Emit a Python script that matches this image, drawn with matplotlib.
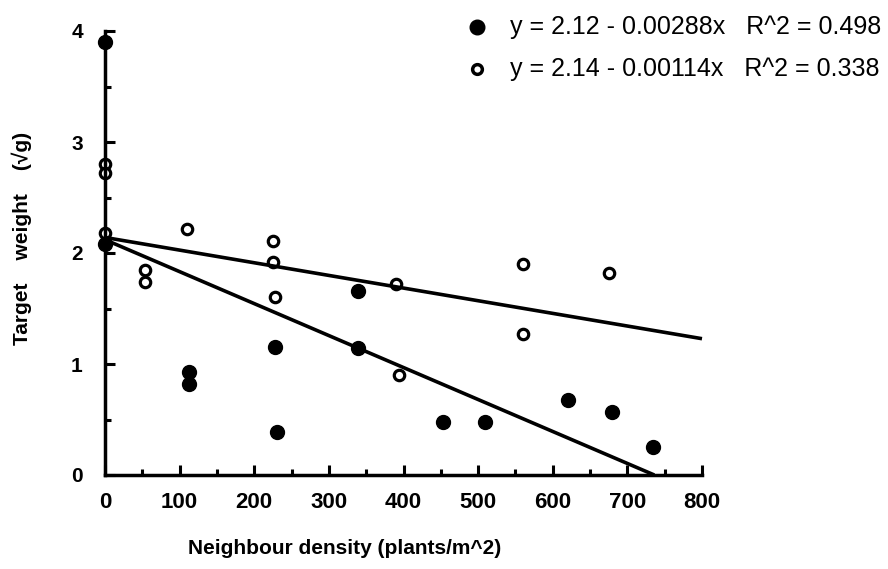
import matplotlib
matplotlib.use("Agg")
import matplotlib.pyplot as plt
from matplotlib.lines import Line2D
from matplotlib.ticker import MultipleLocator
import numpy as np

plt.rcParams['font.family'] = ['Liberation Sans', 'DejaVu Sans']

# Filled-circle series
filled_x = [0, 0, 112, 112, 228, 231, 339, 339, 453, 509, 621, 680, 734]
filled_y = [3.90, 2.08, 0.93, 0.82, 1.15, 0.39, 1.66, 1.14, 0.48, 0.48, 0.68, 0.57, 0.25]

# Open-circle series
open_x = [0, 0, 0, 54, 54, 110, 225, 225, 228, 390, 394, 560, 560, 676]
open_y = [2.80, 2.72, 2.18, 1.85, 1.74, 2.22, 2.11, 1.92, 1.60, 1.72, 0.90, 1.90, 1.27, 1.82]

# Regression fits (intercept, slope)
filled_fit = (2.12, -0.00288)
open_fit = (2.14, -0.00114)
filled_r2 = 0.498
open_r2 = 0.338

x_ticks = [0, 100, 200, 300, 400, 500, 600, 700, 800]
y_ticks = [0, 1, 2, 3, 4]

W, H = 888, 569
fig = plt.figure(figsize=(W / 100, H / 100), dpi=100)
ax = fig.add_axes([105 / W, (H - 475) / H, 597 / W, 444 / H])

# regression lines
fx_end = -filled_fit[0] / filled_fit[1]
fx = np.array([0, fx_end])
ax.plot(fx, filled_fit[0] + filled_fit[1] * fx, color='black', lw=2.6,
        solid_capstyle='butt', zorder=3, clip_on=False)
ox = np.array([0, x_ticks[-1]])
ax.plot(ox, open_fit[0] + open_fit[1] * ox, color='black', lw=2.6,
        solid_capstyle='butt', zorder=3, clip_on=False)

# points
ax.plot(filled_x, filled_y, 'o', color='black', ms=10, ls='none',
        zorder=2, clip_on=False)
ax.plot(open_x, open_y, 'o', mfc='white', mec='black', mew=2.3, ms=7.5,
        ls='none', zorder=2, clip_on=False)

ax.set_xlim(0, 800)
ax.set_ylim(0, 4)
ax.set_xticks(x_ticks)
ax.set_yticks(y_ticks)
ax.xaxis.set_minor_locator(MultipleLocator(50))
ax.yaxis.set_minor_locator(MultipleLocator(0.5))

for s in ['top', 'right']:
    ax.spines[s].set_visible(False)
for s in ['left', 'bottom']:
    ax.spines[s].set_linewidth(2.5)
    ax.spines[s].set_zorder(4)

ax.tick_params(axis='both', which='major', direction='in', length=7.5, width=2.2)
ax.tick_params(axis='both', which='minor', direction='in', length=4, width=2.2)
ax.tick_params(axis='x', which='major', pad=12, labelsize=16)
ax.tick_params(axis='y', which='major', pad=16, labelsize=15)
for lab in ax.get_xticklabels() + ax.get_yticklabels():
    lab.set_fontweight('bold')

ax.set_xlabel('Neighbour density (plants/m^2)', fontsize=15, fontweight='bold')
ax.xaxis.set_label_coords((345 - 105) / 597, -(548 - 475) / 444)
ax.set_ylabel('Target    weight    (\u221ag)', fontsize=15, fontweight='bold')
ax.yaxis.set_label_coords((22 - 105) / 597, (475 - 238) / 444)
ax.yaxis.label.set_va('center')
ax.xaxis.label.set_va('center')

# legend-like annotations
rows = [(27, 'filled', 'y = %.2f - %.5fx   R^2 = %.3f' % (filled_fit[0], -filled_fit[1], filled_r2)),
        (69, 'open', 'y = %.2f - %.5fx   R^2 = %.3f' % (open_fit[0], -open_fit[1], open_r2))]
for ypix, kind, txt in rows:
    yf = 1 - ypix / H
    if kind == 'filled':
        m = Line2D([477 / W], [yf], marker='o', color='black', ms=10.5, ls='none',
                   transform=fig.transFigure)
    else:
        m = Line2D([477 / W], [yf], marker='o', mfc='white', mec='black', mew=2.5,
                   ms=7, ls='none', transform=fig.transFigure)
    fig.add_artist(m)
    fig.text(510 / W, yf, txt, fontsize=18, va='center', ha='left')

fig.savefig('out.png', dpi=100)
